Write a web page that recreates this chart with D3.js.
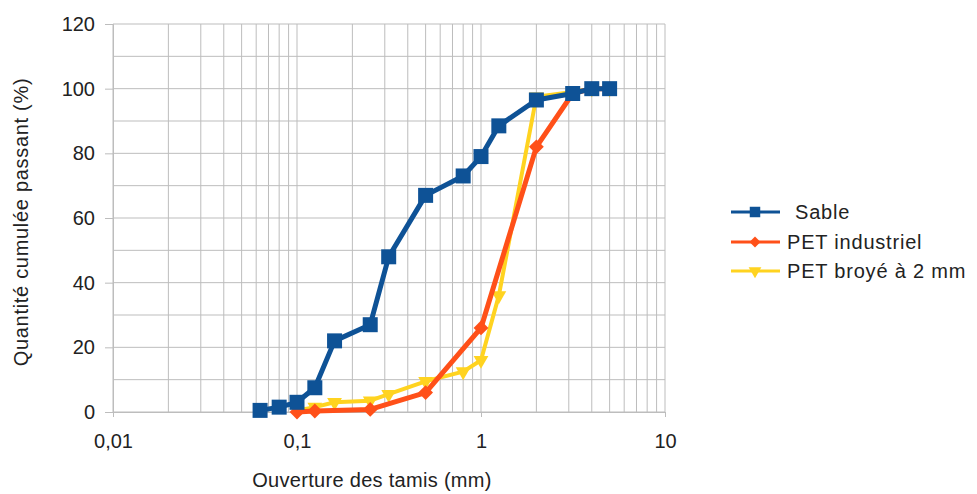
<!DOCTYPE html>
<html>
<head>
<meta charset="utf-8">
<script src="https://cdn.jsdelivr.net/npm/d3@7"></script>
<style>
    body { margin: 0; background: #fff; }
    text { font-family: "Liberation Sans", Arial, sans-serif; fill: #222; }
</style>
</head>
<body>
<svg id="chart" width="977" height="494"></svg>
<script>

// Sieve openings (mm) and cumulative passing (%)
const sableX = [0.063, 0.08, 0.1, 0.125, 0.16, 0.25, 0.315, 0.5, 0.8, 1, 1.25, 2, 3.15, 4, 5]
const sableY = [0.5, 1.5, 3, 7.5, 22, 27, 48, 67, 73, 79, 88.5, 96.5, 98.5, 100, 100]

const petIndX = [0.1, 0.125, 0.25, 0.5, 1, 2, 3.15, 4, 5]
const petIndY = [0, 0.3, 0.8, 6, 26, 82, 98.5, 100, 100]

const petBroyX = [0.1, 0.125, 0.16, 0.25, 0.315, 0.5, 0.8, 1, 1.25, 2, 3.15, 4, 5]
const petBroyY = [0.5, 1.5, 3, 3.5, 5.5, 9.5, 12.5, 16, 36, 97.5, 99, 100, 100]

const seriesNames = ['Sable', 'PET industriel', 'PET broyé à 2 mm']
const seriesColors = ['#0e5296', '#ff5019', '#ffd320']

const xTickLabels = ['0,01', '0,1', '1', '10']
const yTicks = [0, 20, 40, 60, 80, 100, 120]

// Layout
const plotLeft = 113, plotRight = 665, plotTop = 24, plotBottom = 412

const svg = d3.select('#chart')

const xScale = d3.scaleLog()
    .domain([0.01, 10])
    .range([plotLeft, plotRight])

const yScale = d3.scaleLinear()
    .domain([0, 120])
    .range([plotBottom, plotTop])

// Grid lines
const gridColor = '#bdbdbd'
const minorX = []
;[0.01, 0.1, 1].forEach(function(d){
    for (let k = 1; k < 10; k++) minorX.push(d * k)
})
minorX.push(10)

svg.append('g')
    .selectAll('line')
    .data(minorX)
    .enter()
    .append('line')
    .attr('x1', d => xScale(d))
    .attr('x2', d => xScale(d))
    .attr('y1', plotTop)
    .attr('y2', plotBottom)
    .style('stroke', gridColor)
    .style('stroke-width', 1)

svg.append('g')
    .selectAll('line')
    .data(d3.range(0, 121, 10))
    .enter()
    .append('line')
    .attr('x1', plotLeft)
    .attr('x2', plotRight)
    .attr('y1', d => yScale(d))
    .attr('y2', d => yScale(d))
    .style('stroke', gridColor)
    .style('stroke-width', 1)

// Axes
const yAxis = d3.axisLeft(yScale)
    .tickValues(yTicks)
    .tickSize(8)
    .tickPadding(10)

const yAxisG = svg.append('g')
    .attr('transform', 'translate(' + plotLeft + ',0)')
    .call(yAxis)

const xAxis = d3.axisBottom(xScale)
    .tickValues([0.01, 0.1, 1, 10])
    .tickFormat((_, i) => xTickLabels[i])
    .tickSize(5)
    .tickPadding(17)

const xAxisG = svg.append('g')
    .attr('transform', 'translate(0,' + plotBottom + ')')
    .call(xAxis)

;[xAxisG, yAxisG].forEach(function(g){
    g.select('.domain').style('stroke', gridColor)
    g.selectAll('.tick line').style('stroke', gridColor)
    g.selectAll('.tick text')
        .style('font-size', '20px')
        .style('font-family', '"Liberation Sans", Arial, sans-serif')
        .style('fill', '#222')
})

// Axis titles
svg.append('text')
    .attr('x', 372)
    .attr('y', 487)
    .attr('text-anchor', 'middle')
    .style('font-size', '20px')
    .style('letter-spacing', '0.3px')
    .text('Ouverture des tamis (mm)')

svg.append('text')
    .attr('transform', 'translate(28,222) rotate(-90)')
    .attr('text-anchor', 'middle')
    .style('font-size', '20px')
    .style('letter-spacing', '0.7px')
    .text('Quantité cumulée passant (%)')

// Series
const symbols = [
    d3.symbol().type(d3.symbolSquare).size(225),
    d3.symbol().type(d3.symbolSquare).size(110),
    d3.symbol().type(d3.symbolTriangle).size(95)
]
const symbolRotate = [0, 45, 180]

const seriesData = [
    sableX.map((x, i) => [x, sableY[i]]),
    petIndX.map((x, i) => [x, petIndY[i]]),
    petBroyX.map((x, i) => [x, petBroyY[i]])
]
const lineWidths = [5, 5, 4]

const line = d3.line()
    .x(d => xScale(d[0]))
    .y(d => yScale(d[1]))

// draw yellow first, blue last (blue sits on top)
;[2, 1, 0].forEach(function(s){
    const g = svg.append('g').classed('series-' + s, true)

    g.append('path')
        .datum(seriesData[s])
        .attr('d', line)
        .style('fill', 'none')
        .style('stroke', seriesColors[s])
        .style('stroke-width', lineWidths[s])
        .style('stroke-linejoin', 'round')

    g.selectAll('path.marker')
        .data(seriesData[s])
        .enter()
        .append('path')
        .classed('marker', true)
        .attr('d', symbols[s])
        .attr('transform', d => 'translate(' + xScale(d[0]) + ',' + yScale(d[1]) + ') rotate(' + symbolRotate[s] + ')')
        .style('fill', seriesColors[s])
})

// Legend
const legendY = [212, 242, 271]
const legendTextX = [795, 787, 787]

const legend = svg.append('g')
    .selectAll('g')
    .data(seriesNames)
    .enter()
    .append('g')

legend.append('line')
    .attr('x1', 731)
    .attr('x2', 780)
    .attr('y1', (_, i) => legendY[i])
    .attr('y2', (_, i) => legendY[i])
    .style('stroke', (_, i) => seriesColors[i])
    .style('stroke-width', 3)

legend.append('path')
    .attr('d', (_, i) => d3.symbol().type([d3.symbolSquare, d3.symbolSquare, d3.symbolTriangle][i]).size([110, 60, 70][i])())
    .attr('transform', (_, i) => 'translate(755,' + legendY[i] + ') rotate(' + symbolRotate[i] + ')')
    .style('fill', (_, i) => seriesColors[i])

legend.append('text')
    .attr('x', (_, i) => legendTextX[i])
    .attr('y', (_, i) => legendY[i])
    .attr('dy', '0.35em')
    .style('font-size', '20px')
    .style('letter-spacing', '0.8px')
    .text(d => d)

</script>
</body>
</html>
